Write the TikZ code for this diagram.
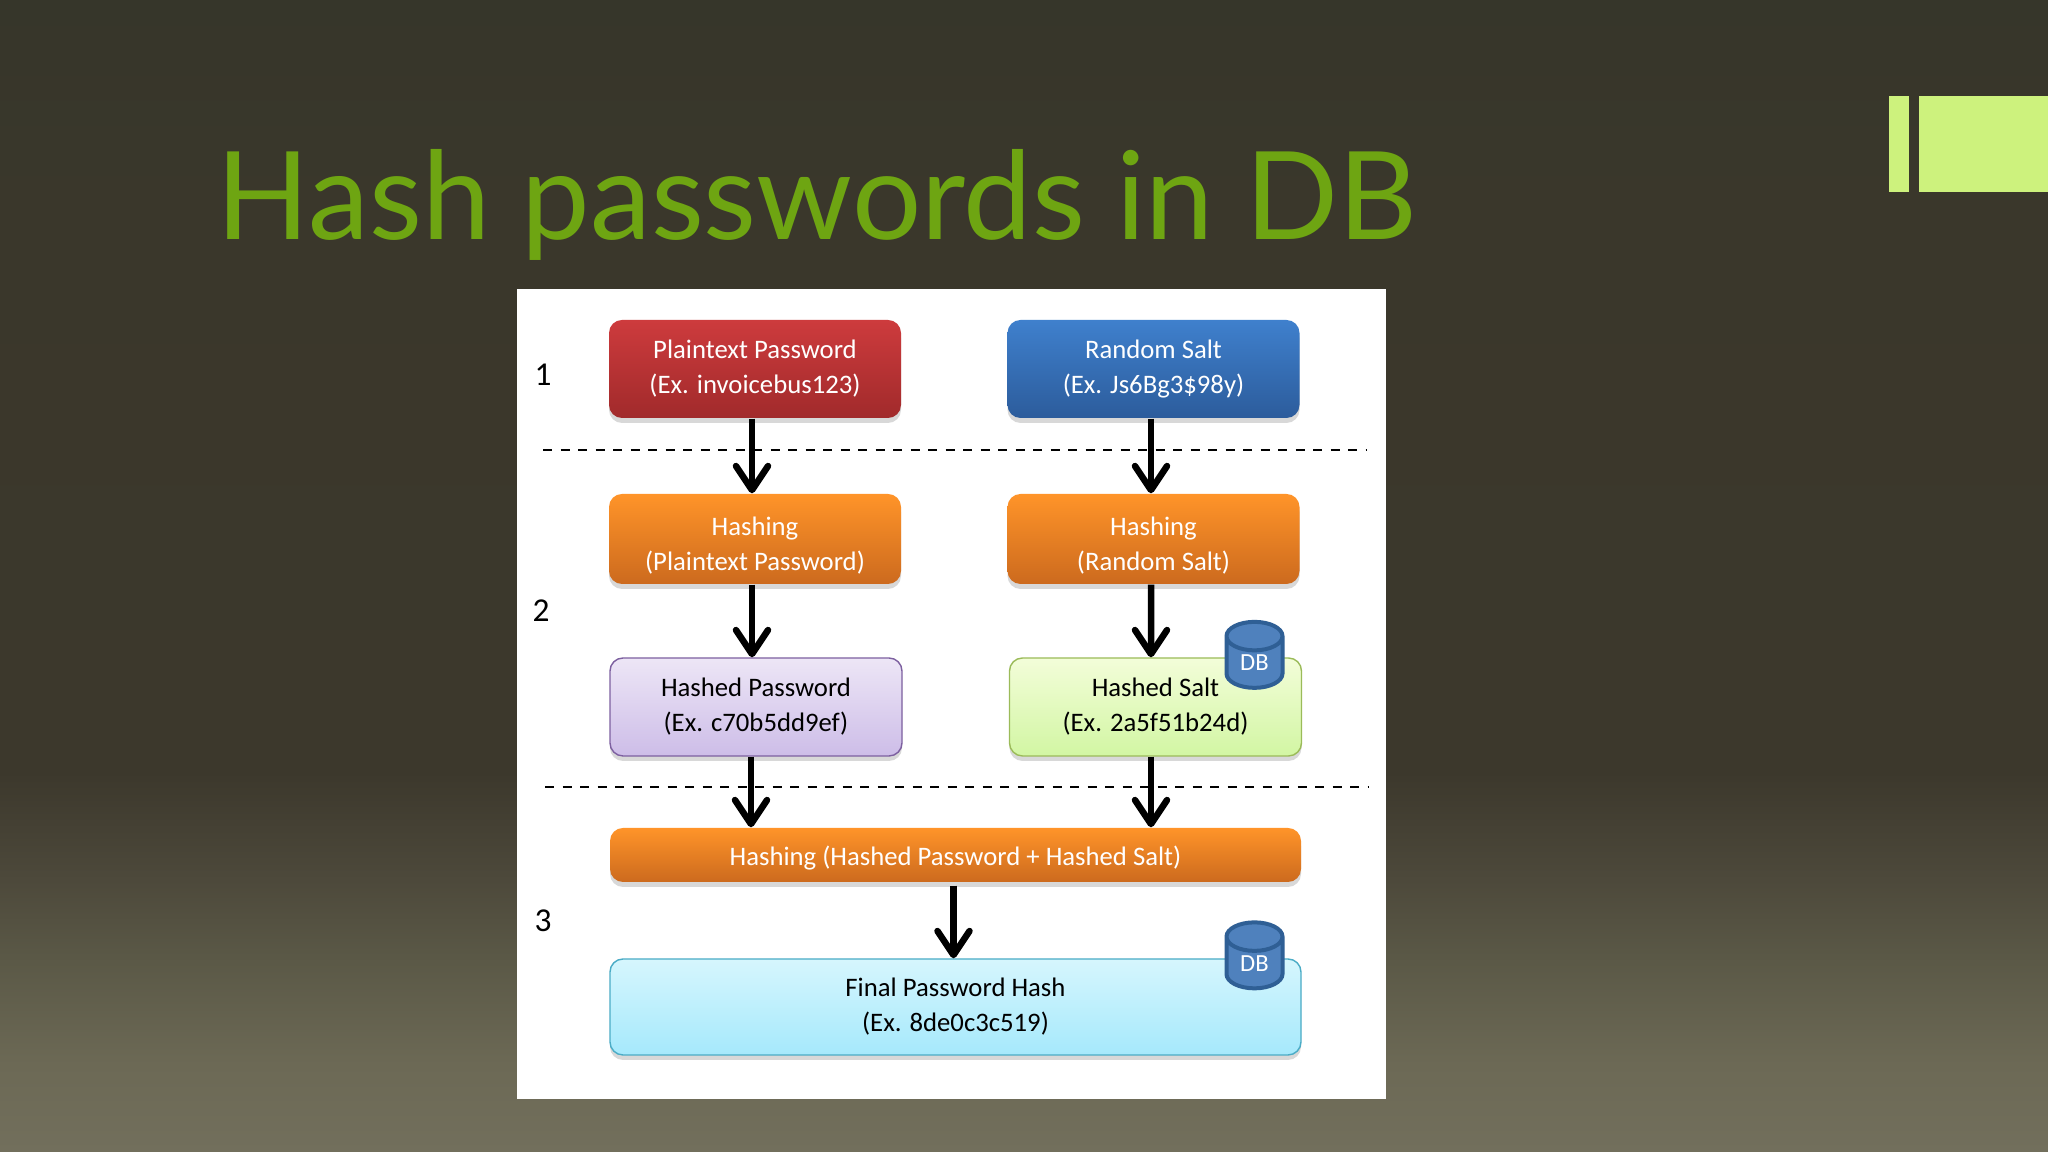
\documentclass[tikz,border=0pt]{standalone}
\usepackage{fontspec}
\setmainfont{Carlito}
\newfontfamily\titlefont{Lato}
\usetikzlibrary{arrows.meta,shapes.geometric,shadows}

\definecolor{titlegreen}{HTML}{6EA512}
\definecolor{accentgreen}{HTML}{CDF27D}
\definecolor{bga}{HTML}{36362A}
\definecolor{bgb}{HTML}{3A372B}
\definecolor{bgc}{HTML}{3C382C}
\definecolor{bgd}{HTML}{4D493B}
\definecolor{bge}{HTML}{5A5846}
\definecolor{bgf}{HTML}{6C6955}
\definecolor{bgg}{HTML}{726F5C}
\definecolor{dbfill}{HTML}{4F81BD}
\definecolor{dbline}{HTML}{2F5F95}
\definecolor{redtop}{HTML}{CD3B3D}
\definecolor{redbot}{HTML}{A12A2B}
\definecolor{bluetop}{HTML}{3F80CD}
\definecolor{bluebot}{HTML}{2C5C9C}
\definecolor{orangetop}{HTML}{FF9429}
\definecolor{orangebot}{HTML}{CC6A1E}
\definecolor{purpletop}{HTML}{EDE6F6}
\definecolor{purplebot}{HTML}{CDBDE8}
\definecolor{purpleline}{HTML}{7D60A0}
\definecolor{greentop}{HTML}{F3FDD9}
\definecolor{greenbot}{HTML}{D2F6A3}
\definecolor{greenline}{HTML}{9BBB59}
\definecolor{cyantop}{HTML}{D6F6FD}
\definecolor{cyanbot}{HTML}{A6E9FC}
\definecolor{cyanline}{HTML}{4BACC6}

\pgfdeclareverticalshading{slidebg}{100bp}{
    color(0bp)=(bgg); color(25bp)=(bgg); color(28.8bp)=(bgf); color(33.5bp)=(bge);
    color(36.8bp)=(bgd); color(41.5bp)=(bgc); color(66.3bp)=(bgb); color(75bp)=(bga); color(100bp)=(bga)}

\newcommand{\lowtext}{\rule{0pt}{8.9pt}}

\begin{document}
\begin{tikzpicture}[
    >={Straight Barb[length=0.24cm,width=0.32cm,round]},
    stepbox/.style={rectangle, rounded corners=0.13cm, inner sep=0pt, align=center,
        font=\fontsize{7.6}{10}\selectfont, minimum width=2.92cm,
        drop shadow={shadow xshift=0cm, shadow yshift=-0.05cm, opacity=0.3}},
    redbox/.style={stepbox, text=white, top color=redtop, bottom color=redbot, minimum height=0.98cm},
    bluebox/.style={stepbox, text=white, top color=bluetop, bottom color=bluebot, minimum height=0.98cm},
    hashbox/.style={stepbox, text=white, top color=orangetop, bottom color=orangebot, minimum height=0.9cm},
    purplebox/.style={stepbox, draw=purpleline, top color=purpletop, bottom color=purplebot, minimum height=0.98cm},
    greenbox/.style={stepbox, draw=greenline, top color=greentop, bottom color=greenbot, minimum height=0.98cm},
    cyanbox/.style={stepbox, draw=cyanline, top color=cyantop, bottom color=cyanbot, minimum height=0.96cm},
    db/.style={cylinder, shape border rotate=90, aspect=1.0, draw=dbline, fill=dbfill, line width=0.04cm,
        minimum width=0.56cm, minimum height=0.66cm, inner sep=0pt, text=white, font=\fontsize{7}{8}\selectfont},
    flow/.style={->, line width=0.065cm},
    sep/.style={dash pattern=on 0.09cm off 0.085cm, line width=0.017cm},
    num/.style={font=\fontsize{9.5}{10}\selectfont, text=black}
]

    % Slide background
    \shade[shading=slidebg] (0, 0) rectangle (20.48, 11.52);
    \useasboundingbox (0, 0) rectangle (20.48, 11.52);
    \fill[accentgreen] (18.89, 9.6) rectangle (19.09, 10.56);
    \fill[accentgreen] (19.19, 9.6) rectangle (20.48, 10.56);

    % Title
    \node[anchor=base west, inner sep=0pt, text=titlegreen, font=\titlefont\fontsize{34.8}{40}\selectfont] (title) at (2.16, 9.12) {Hash passwords in DB};

    % White panel
    \fill[white] (5.17, 0.53) rectangle (13.86, 8.63);

    % Row numbers
    \node[num] (one) at (5.43, 7.77) {1};
    \node[num] (two) at (5.41, 5.41) {2};
    \node[num] (three) at (5.43, 2.31) {3};

    % Separators
    \coordinate (sepa) at (5.43, 7.02);
    \coordinate (sepb) at (13.66, 7.02);
    \coordinate (sepc) at (5.45, 3.65);
    \coordinate (sepd) at (13.68, 3.65);
    \draw[sep] (sepa) -- (sepb);
    \draw[sep] (sepc) -- (sepd);

    % Step 1
    \node[redbox] (plain) at (7.55, 7.83) {Plaintext Password\\(Ex. invoicebus123)};
    \node[bluebox] (salt) at (11.535, 7.83) {Random Salt\\(Ex. Js6Bg3\$98y)};

    % Step 2
    \node[hashbox] (hashplain) at (7.55, 6.13) {\lowtext Hashing\\(Plaintext Password)};
    \node[hashbox] (hashsalt) at (11.535, 6.13) {\lowtext Hashing\\(Random Salt)};
    \node[purplebox] (hashedpw) at (7.56, 4.45) {Hashed Password\\(Ex. c70b5dd9ef)};
    \node[greenbox] (hashedsalt) at (11.555, 4.45) {Hashed Salt\\(Ex. 2a5f51b24d)};
    \node[db] (dba) at (12.545, 4.89) {DB};

    % Step 3
    \node[hashbox, minimum width=6.91cm, minimum height=0.54cm] (hashboth) at (9.555, 2.97) {\rule{0pt}{7.5pt}Hashing (Hashed Password + Hashed Salt)};
    \node[cyanbox, minimum width=6.91cm] (final) at (9.555, 1.45) {Final Password Hash\\(Ex. 8de0c3c519)};
    \node[db] (dbb) at (12.545, 1.885) {DB};

    % Arrows
    \draw[flow] ([xshift=-0.03cm]plain.south) -- ([xshift=-0.03cm]hashplain.north);
    \draw[flow] ([xshift=-0.025cm]salt.south) -- ([xshift=-0.025cm]hashsalt.north);
    \draw[flow] ([xshift=-0.03cm]hashplain.south) -- ([xshift=-0.04cm]hashedpw.north);
    \draw[flow] ([xshift=-0.025cm]hashsalt.south) -- ([xshift=-0.045cm]hashedsalt.north);
    \draw[flow] ([xshift=-0.05cm]hashedpw.south) -- ([xshift=-0.05cm]hashedpw.south |- hashboth.north);
    \draw[flow] ([xshift=-0.045cm]hashedsalt.south) -- ([xshift=-0.045cm]hashedsalt.south |- hashboth.north);
    \draw[flow] ([xshift=-0.02cm,yshift=-0.03cm]hashboth.south) -- ([xshift=-0.02cm]final.north);

\end{tikzpicture}
\end{document}
